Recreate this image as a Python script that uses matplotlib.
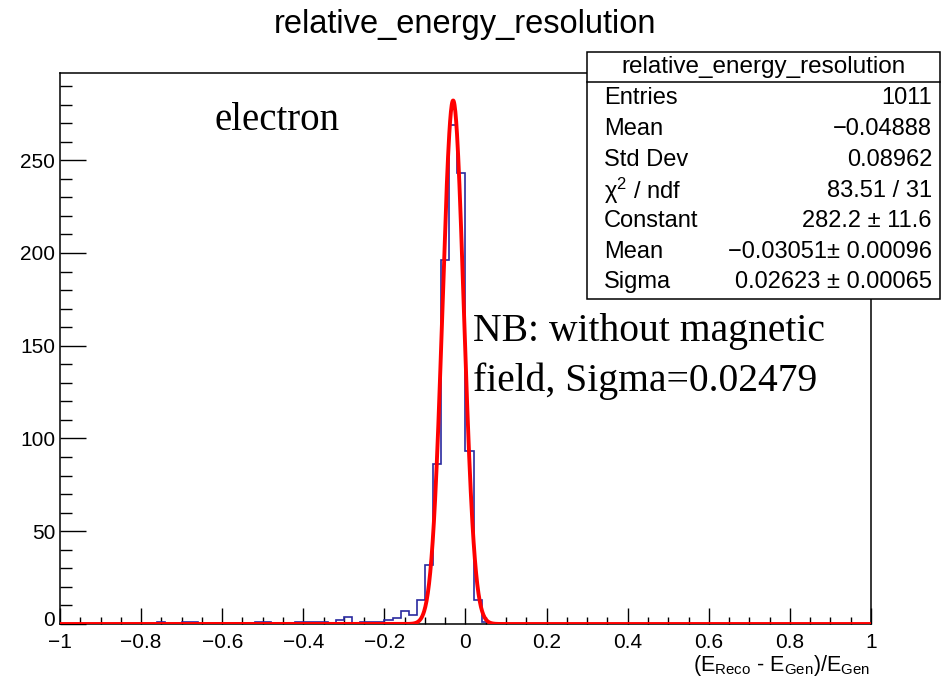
import numpy as np
import matplotlib.pyplot as plt
import matplotlib.transforms as mtransforms
from matplotlib.patches import Rectangle
from matplotlib.lines import Line2D

plt.rcParams['font.family'] = ['Liberation Sans', 'DejaVu Sans']
plt.rcParams['mathtext.fontset'] = 'custom'
plt.rcParams['mathtext.rm'] = 'Liberation Sans'
plt.rcParams['mathtext.it'] = 'Liberation Sans:italic'

# histogram: 100 bins in [-1, 1], only non-empty bins listed (left edge, count)
bin_lo = [-0.76, -0.70, -0.68, -0.52, -0.50, -0.42, -0.40, -0.38, -0.36,
          -0.32, -0.30, -0.26, -0.24, -0.22, -0.20, -0.18, -0.16, -0.14,
          -0.12, -0.10, -0.08, -0.06, -0.04, -0.02, 0.00, 0.02, 0.04]
counts = [1, 1, 1, 1, 1, 1, 1, 1, 1,
          2, 4, 1, 1, 1, 2, 3, 7, 5,
          13, 32, 86, 196, 269, 243, 93, 13, 1]

# gaussian fit parameters (from the stats box)
fit_const = 282.2
fit_mean = -0.03051
fit_sigma = 0.02623

stat_names = ["Entries", "Mean", "Std Dev", "\u03c7$^{2}$ / ndf", "Constant", "Mean", "Sigma"]
stat_vals = ["1011", "\u22120.04888", "0.08962", "83.51 / 31", "282.2 \u00b1 11.6",
             "\u22120.03051\u00b1 0.00096", "0.02623 \u00b1 0.00065"]

edges = np.linspace(-1, 1, 101)
h = np.zeros(100)
for lo, c in zip(bin_lo, counts):
    h[int(round((lo + 1) / 0.02))] = c

W, H = 942, 685
fig = plt.figure(figsize=(W / 100, H / 100), dpi=100)
ax = fig.add_axes([60 / W, 1 - 624 / H, 811 / W, 551 / H])

ax.stairs(h, edges, color='#2a2aa0', lw=1.2, zorder=2)
xf = np.linspace(-1, 1, 2001)
ax.plot(xf, fit_const * np.exp(-0.5 * ((xf - fit_mean) / fit_sigma) ** 2),
        color='red', lw=2.8, zorder=3)

ax.set_xlim(-1, 1)
ax.set_ylim(0, 297)
ax.set_xticks(np.arange(-1, 1.01, 0.2))
ax.set_xticklabels(["\u22121", "\u22120.8", "\u22120.6", "\u22120.4", "\u22120.2",
                    "0", "0.2", "0.4", "0.6", "0.8", "1"])
ax.set_xticks(np.arange(-1, 1.01, 0.05), minor=True)
ax.set_yticks(np.arange(0, 251, 50))
ax.set_yticks(np.arange(0, 297, 10), minor=True)
ax.tick_params(axis='x', which='major', direction='in', length=11.3, width=1, labelsize=15, pad=6.5)
ax.tick_params(axis='x', which='minor', direction='in', length=5.3, width=1)
ax.tick_params(axis='y', which='major', direction='in', length=18.7, width=1, labelsize=15, pad=3.5)
ax.tick_params(axis='y', which='minor', direction='in', length=8.6, width=1)
for s in ax.spines.values():
    s.set_linewidth(1.1)

# lift the y "0" label a little so it does not sit on the x "-1"
fig.canvas.draw()
lbl0 = ax.get_yticklabels()[0]
lbl0.set_transform(lbl0.get_transform() +
                   mtransforms.ScaledTranslation(0, 4 / 72, fig.dpi_scale_trans))

fig.text(465 / W, 1 - 25 / H, "relative_energy_resolution", ha='center', va='center', fontsize=23.5)
fig.text(870 / W, 1 - 665 / H,
         r"(E$_{\mathrm{Reco}}$ - E$_{\mathrm{Gen}}$)/E$_{\mathrm{Gen}}$",
         ha='right', va='center', fontsize=15.5)

fig.text(215 / W, 1 - 121 / H, "electron", ha='left', va='center',
         fontsize=28, family='Liberation Serif')
fig.text(473 / W, 1 - 331 / H, "NB: without magnetic", ha='left', va='center',
         fontsize=28.5, family='Liberation Serif')
fig.text(473 / W, 1 - 381 / H, "field, Sigma=0.02479", ha='left', va='center',
         fontsize=28.5, family='Liberation Serif')

# stats box
bx0, bx1, by0, by1 = 587, 940, 52, 299
fig.add_artist(Rectangle((bx0 / W, 1 - by1 / H), (bx1 - bx0) / W, (by1 - by0) / H,
                         transform=fig.transFigure, facecolor='white',
                         edgecolor='black', lw=1.1, zorder=5))
fig.add_artist(Line2D([bx0 / W, bx1 / W], [1 - 82 / H, 1 - 82 / H],
                      transform=fig.transFigure, color='black', lw=1.1, zorder=6))
fig.text((bx0 + bx1) / 2 / W, 1 - 67 / H, "relative_energy_resolution",
         ha='center', va='center', fontsize=17.5, zorder=7)
rows_y = [98, 129, 160, 191, 221, 252, 282]
for name, val, yy in zip(stat_names, stat_vals, rows_y):
    fig.text(604 / W, 1 - yy / H, name, ha='left', va='center', fontsize=17, zorder=7)
    fig.text(932 / W, 1 - yy / H, val, ha='right', va='center', fontsize=17, zorder=7)

fig.savefig("out.png", dpi=100)
